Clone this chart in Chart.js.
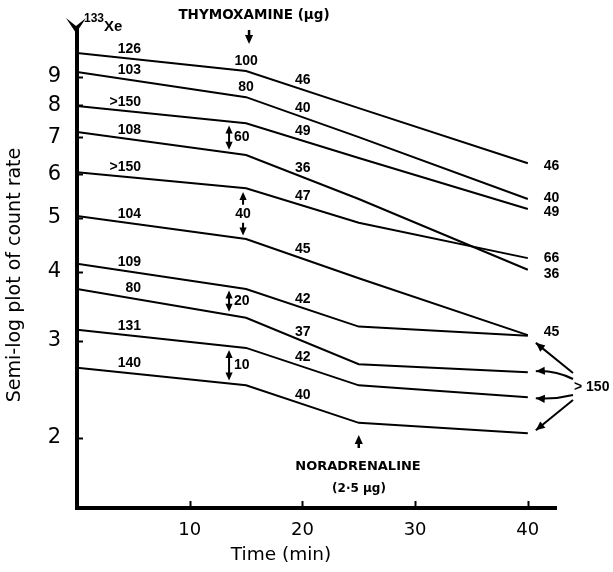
<!DOCTYPE html>
<html>
<head>
<meta charset="utf-8">
<script src="https://cdn.jsdelivr.net/npm/chart.js@4.4.0/dist/chart.umd.min.js"></script>
<style>
  html, body { margin: 0; padding: 0; background: #fff; }
</style>
</head>
<body>
<canvas id="chart" width="613" height="572"></canvas>
<script>
// time points (min) and the ten washout curves (semi-log count rate)
const times = [0, 15, 25, 40];
const line1 = [9.94, 9.22, 7.90, 6.28];
const line2 = [9.18, 8.27, 7.00, 5.41];
const line3 = [7.97, 7.42, 6.42, 5.19];
const line4 = [7.15, 6.50, 5.41, 4.03];
const line5 = [6.05, 5.66, 4.90, 4.23];
const line6 = [5.04, 4.58, 3.89, 3.07];
const line7 = [4.13, 3.72, 3.18, 3.06];
const line8 = [3.72, 3.30, 2.72, 2.63];
const line9 = [3.14, 2.91, 2.49, 2.37];
const line10 = [2.68, 2.49, 2.13, 2.04];
const series = [line1, line2, line3, line4, line5, line6, line7, line8, line9, line10];

// numbers written on the curves
const startLabels = ['126', '103', '>150', '108', '>150', '104', '109', '80', '131', '140'];
const thymoLabels = ['100', '80'];
const midLabels = ['46', '40', '49', '36', '47', '45', '42', '37', '42', '40'];
const endLabels = ['46', '40', '49', '36', '66', '45'];
const endShift = [3, -1, 3, 4, 0, -3];
// thymoxamine doses given between two curves
const doseGaps = [[2, 3, '60', false], [4, 5, '40', true], [6, 7, '20', false], [8, 9, '10', false]];
const over150 = [6, 7, 8, 9];
const tipShift = [7, -1, 1, -3];

const yTicks = [2, 3, 4, 5, 6, 7, 8, 9];
const xTicks = [10, 20, 30, 40];

const labelFont = 'bold 14px "Liberation Sans", Arial, sans-serif';

function lineY(chart, i, px) {
    const pts = chart.getDatasetMeta(i).data;
    for (let k = 0; k < pts.length - 1; k++) {
        const a = pts[k], b = pts[k + 1];
        if (px <= b.x || k === pts.length - 2) {
            const t = (px - a.x) / (b.x - a.x);
            return a.y + t * (b.y - a.y);
        }
    }
}

function head(ctx, x, y, dx, dy, size) {
    // filled arrow head with tip at x,y pointing along dx,dy
    const len = Math.hypot(dx, dy);
    const ux = dx / len, uy = dy / len;
    const bx = x - ux * size, by = y - uy * size;
    ctx.beginPath();
    ctx.moveTo(x, y);
    ctx.lineTo(bx - uy * size * 0.45, by + ux * size * 0.45);
    ctx.lineTo(bx + uy * size * 0.45, by - ux * size * 0.45);
    ctx.closePath();
    ctx.fill();
}

const annotations = {
    id: 'annotations',
    afterDraw(chart) {
        const ctx = chart.ctx;
        const xs = chart.scales.x, ys = chart.scales.y;
        const area = chart.chartArea;
        ctx.save();
        ctx.fillStyle = '#000';
        ctx.strokeStyle = '#000';

        // inward ticks
        ctx.lineWidth = 2;
        yTicks.forEach(v => {
            const y = Math.round(ys.getPixelForValue(v)) + 0.5;
            ctx.beginPath();
            ctx.moveTo(area.left, y);
            ctx.lineTo(area.left + 6, y);
            ctx.stroke();
        });
        xTicks.forEach(v => {
            const x = Math.round(xs.getPixelForValue(v)) + 0.5;
            ctx.beginPath();
            ctx.moveTo(x, area.bottom);
            ctx.lineTo(x, area.bottom - 7);
            ctx.stroke();
        });

        // arrow head on top of the y axis
        const ax = area.left - 1;
        ctx.beginPath();
        ctx.moveTo(ax - 10, area.top - 10);
        ctx.lineTo(ax, area.top - 2);
        ctx.lineTo(ax + 10, area.top - 10);
        ctx.lineTo(ax, area.top + 5);
        ctx.closePath();
        ctx.fill();
        ctx.font = 'bold 12px "Liberation Sans", Arial, sans-serif';
        ctx.textBaseline = 'alphabetic';
        ctx.textAlign = 'left';
        ctx.fillText('133', ax + 8, 22);
        ctx.font = 'bold 15px "Liberation Sans", Arial, sans-serif';
        ctx.fillText('Xe', ax + 28, 31);

        // axis titles
        ctx.font = '18.5px "DejaVu Sans", sans-serif';
        ctx.textAlign = 'center';
        ctx.textBaseline = 'middle';
        ctx.fillText('Time (min)', 281, 555);
        ctx.save();
        ctx.translate(15, 275);
        ctx.rotate(-Math.PI / 2);
        ctx.font = '19px "DejaVu Sans", sans-serif';
        ctx.fillText('Semi-log plot of count rate', 0, 0);
        ctx.restore();

        // curve labels
        ctx.font = labelFont;
        ctx.textBaseline = 'middle';
        const x15 = xs.getPixelForValue(15);
        series.forEach((s, i) => {
            ctx.textAlign = 'right';
            ctx.fillText(startLabels[i], 141, lineY(chart, i, 133) - 10);
            ctx.textAlign = 'left';
            ctx.fillText(midLabels[i], 295, lineY(chart, i, 305) - 10);
            if (endLabels[i]) {
                const p = chart.getDatasetMeta(i).data[times.length - 1];
                ctx.fillText(endLabels[i], p.x + 16, p.y + endShift[i]);
            }
        });
        ctx.textAlign = 'center';
        thymoLabels.forEach((t, i) => {
            ctx.fillText(t, x15, lineY(chart, i, x15) - 10);
        });

        // double arrows for the thymoxamine doses
        ctx.lineWidth = 2;
        doseGaps.forEach(([a, b, t, inline]) => {
            const x = inline ? x15 - 3 : x15 - 17;
            const y1 = lineY(chart, a, x) + 4;
            const y2 = lineY(chart, b, x) - 3;
            const ym = (y1 + y2) / 2;
            ctx.beginPath();
            if (inline) {
                ctx.moveTo(x, y1 + 4); ctx.lineTo(x, ym - 9);
                ctx.moveTo(x, ym + 9); ctx.lineTo(x, y2 - 4);
            } else {
                ctx.moveTo(x, y1 + 4); ctx.lineTo(x, y2 - 4);
            }
            ctx.stroke();
            head(ctx, x, y1, 0, -1, 8);
            head(ctx, x, y2, 0, 1, 8);
            if (inline) {
                ctx.textAlign = 'center';
                ctx.fillText(t, x, ym);
            } else {
                ctx.textAlign = 'left';
                ctx.fillText(t, x + 5, ym);
            }
        });

        // thymoxamine marker
        ctx.font = 'bold 13.5px "DejaVu Sans", sans-serif';
        ctx.textAlign = 'center';
        ctx.fillText('THYMOXAMINE (\u00b5g)', 254, 15);
        ctx.lineWidth = 2.5;
        ctx.beginPath();
        ctx.moveTo(x15 + 3, 30); ctx.lineTo(x15 + 3, 37);
        ctx.stroke();
        head(ctx, x15 + 3, 44, 0, 1, 9);

        // noradrenaline marker
        const x25 = xs.getPixelForValue(25);
        ctx.beginPath();
        ctx.moveTo(x25, 448); ctx.lineTo(x25, 441);
        ctx.stroke();
        head(ctx, x25, 435, 0, -1, 9);
        ctx.font = 'bold 13px "DejaVu Sans", sans-serif';
        ctx.fillText('NORADRENALINE', 358, 467);
        ctx.font = 'bold 12px "DejaVu Sans", sans-serif';
        ctx.fillText('(2\u00b75 \u00b5g)', 359, 489);

        // > 150 arrows
        ctx.font = labelFont;
        ctx.textAlign = 'left';
        ctx.fillText('> 150', 574, 387);
        ctx.lineWidth = 2;
        const origins = [373, 379, 395, 400];
        over150.forEach((i, k) => {
            const p = chart.getDatasetMeta(i).data[times.length - 1];
            const tx = p.x + 8, ty = p.y + tipShift[k];
            const ox = 573, oy = origins[k];
            const cx = (ox + tx) / 2, cy = (oy + ty) / 2 + (k === 1 ? -5 : k === 2 ? 3 : 0);
            ctx.beginPath();
            ctx.moveTo(ox, oy);
            ctx.quadraticCurveTo(cx, cy, tx, ty);
            ctx.stroke();
            head(ctx, tx, ty, tx - cx, ty - cy, 9);
        });

        ctx.restore();
    }
};

new Chart(document.getElementById('chart'), {
    type: 'line',
    data: {
        datasets: series.map(s => ({
            data: s.map((v, k) => ({x: times[k], y: v})),
            borderColor: '#000',
            borderWidth: 2,
            pointRadius: 0,
            tension: 0,
            fill: false
        }))
    },
    options: {
        responsive: false,
        animation: false,
        layout: {padding: {top: 28, right: 57, left: 0, bottom: 0}},
        plugins: {legend: {display: false}, tooltip: {enabled: false}},
        scales: {
            x: {
                type: 'linear',
                min: 0,
                max: 42.5,
                afterFit: s => { s.height = 64; },
                afterBuildTicks: s => { s.ticks = xTicks.map(v => ({value: v})); },
                grid: {display: false},
                border: {display: true, color: '#000', width: 4},
                ticks: {
                    color: '#000',
                    padding: 4,
                    font: {family: '"DejaVu Sans", sans-serif', size: 18},
                    callback: v => String(v)
                }
            },
            y: {
                type: 'logarithmic',
                min: 1.494,
                max: 11.03,
                afterFit: s => { s.width = 77; },
                afterBuildTicks: s => { s.ticks = yTicks.map(v => ({value: v})); },
                grid: {display: false},
                border: {display: true, color: '#000', width: 4},
                ticks: {
                    color: '#000',
                    padding: 8,
                    font: {family: '"DejaVu Sans", sans-serif', size: 21},
                    callback: v => String(v)
                }
            }
        }
    },
    plugins: [annotations]
});
</script>
</body>
</html>
